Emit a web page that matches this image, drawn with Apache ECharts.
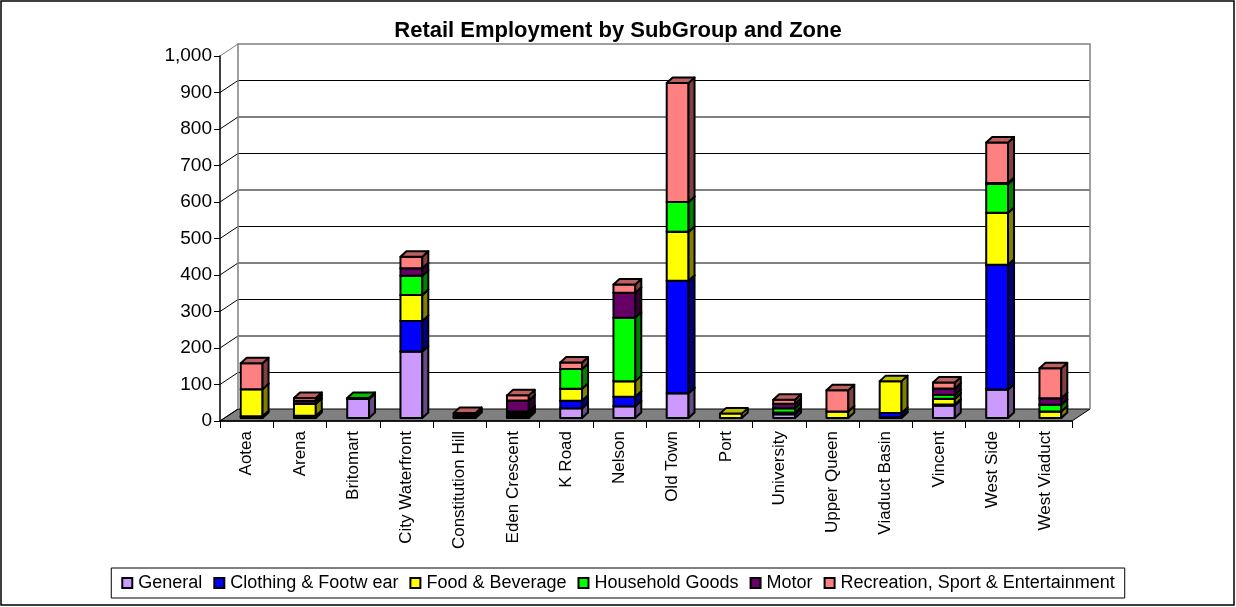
<!DOCTYPE html>
<html>
<head>
<meta charset="utf-8">
<title>Retail Employment by SubGroup and Zone</title>
<script src="https://cdn.jsdelivr.net/npm/echarts@6/dist/echarts.min.js"></script>
<style>
  html, body { margin: 0; padding: 0; background: #fff; }
  #chart { width: 1236px; height: 607px; }
</style>
</head>
<body>
<div id="chart"></div>
<script>
// zones along the x axis
const categories = ['Aotea', 'Arena', 'Britomart', 'City Waterfront', 'Constitution Hill', 'Eden Crescent',
  'K Road', 'Nelson', 'Old Town', 'Port', 'University', 'Upper Queen', 'Viaduct Basin', 'Vincent',
  'West Side', 'West Viaduct']

// employment per subgroup
const general    = [5, 6, 52, 182, 2, 5, 27, 32, 68, 0, 10, 0, 2, 34, 78, 0]
const clothing   = [0, 0, 0, 84, 0, 5, 20, 26, 308, 0, 2, 0, 12, 3, 342, 0]
const food       = [74, 33, 0, 71, 2, 6, 33, 43, 134, 12, 3, 18, 87, 16, 142, 18]
const household  = [0, 0, 3, 53, 0, 2, 54, 174, 82, 0, 12, 0, 0, 10, 79, 18]
const motor      = [0, 8, 0, 20, 6, 30, 0, 68, 0, 0, 12, 0, 0, 18, 3, 18]
const recreation = [71, 8, 0, 32, 4, 14, 18, 23, 326, 0, 11, 58, 0, 16, 111, 82]

const yTicks = [0, 100, 200, 300, 400, 500, 600, 700, 800, 900, 1000]

const groups = [
  { name: 'General', data: general, color: '#CC99FF', side: '#664C80', top: '#9973BF' },
  { name: 'Clothing & Footw ear', data: clothing, color: '#0000FF', side: '#000080', top: '#0000BF' },
  { name: 'Food & Beverage', data: food, color: '#FFFF00', side: '#808000', top: '#BFBF00' },
  { name: 'Household Goods', data: household, color: '#00FF00', side: '#008000', top: '#00BF00' },
  { name: 'Motor', data: motor, color: '#660066', side: '#330033', top: '#4C004C' },
  { name: 'Recreation, Sport & Entertainment', data: recreation, color: '#FF8080', side: '#804040', top: '#BF6060' }
]

// 3d look: back wall offset, bar position in depth, bar depth
const BX = 18, BY = -12
const OX = 5, OY = -3
const DX = 6, DY = -5.5
const FONT = '"Liberation Sans", Arial, sans-serif'

const chart = echarts.init(document.getElementById('chart'))

// frame: back wall gridlines, wall edges, floor and the diagonal tick lines
function frameRender(params, api) {
  const cs = params.coordSys
  const left = cs.x, right = cs.x + cs.width
  const v = api.value(0)
  const y = api.coord([0, v])[1]
  const children = []
  const maxV = yTicks[yTicks.length - 1]
  if (v > 0 && v < maxV) {
    children.push({ type: 'line', shape: { x1: left + BX, y1: y + BY, x2: right + BX, y2: y + BY },
      style: { stroke: '#000', lineWidth: 1 } })
  }
  if (v === maxV) {
    const y0 = api.coord([0, 0])[1]
    children.push({ type: 'polyline', shape: { points: [[left + BX, y0 + BY], [left + BX, y + BY], [right + BX, y + BY], [right + BX, y0 + BY]] },
      style: { stroke: '#808080', lineWidth: 1.5, fill: null } })
  }
  if (v === 0) {
    children.push({ type: 'polygon', shape: { points: [[left, y], [right, y], [right + BX, y + BY], [left + BX, y + BY]] },
      style: { fill: '#808080', stroke: '#000', lineWidth: 1 } })
  }
  children.push({ type: 'line', shape: { x1: left, y1: y, x2: left + BX, y2: y + BY },
    style: { stroke: v === maxV ? '#808080' : '#000', lineWidth: 1 } })
  return { type: 'group', children: children }
}

function barRender(g) {
  return function (params, api) {
    const i = api.value(0)
    const v = api.value(1)
    const base = api.value(2)
    if (!v) return
    const p0 = api.coord([i, base])
    const p1 = api.coord([i, base + v])
    const bw = api.size([1, 0])[0] * 0.41
    const x0 = p0[0] - bw / 2 + OX
    const x1 = x0 + bw
    const yb = p0[1] + OY
    const yt = p1[1] + OY
    const line = { stroke: '#000', lineWidth: 2, lineJoin: 'round' }
    return {
      type: 'group',
      children: [
        { type: 'rect', shape: { x: x0, y: yt, width: bw, height: yb - yt }, style: Object.assign({ fill: g.color }, line) },
        { type: 'polygon', shape: { points: [[x1, yb], [x1, yt], [x1 + DX, yt + DY], [x1 + DX, yb + DY]] }, style: Object.assign({ fill: g.side }, line) },
        { type: 'polygon', shape: { points: [[x0, yt], [x1, yt], [x1 + DX, yt + DY], [x0 + DX, yt + DY]] }, style: Object.assign({ fill: g.top }, line) }
      ]
    }
  }
}

// stacked bases
const running = categories.map(() => 0)
const barSeries = groups.map(g => {
  const rows = g.data.map((v, i) => {
    const row = [i, v, running[i]]
    running[i] += v
    return row
  })
  return {
    name: g.name,
    type: 'custom',
    renderItem: barRender(g),
    itemStyle: { color: g.color, borderColor: '#000', borderWidth: 1 },
    encode: { x: 0, y: 1 },
    data: rows,
    z: 3,
    animation: false
  }
})

chart.setOption({
  backgroundColor: '#fff',
  animation: false,
  title: {
    text: 'Retail Employment by SubGroup and Zone',
    left: 'center',
    top: 15,
    textStyle: { fontFamily: FONT, fontSize: 22, fontWeight: 'bold', color: '#000' }
  },
  legend: {
    data: groups.map(g => g.name),
    bottom: 9,
    left: 'center',
    icon: 'rect',
    itemWidth: 10,
    itemHeight: 10,
    itemGap: 11,
    borderColor: '#000',
    borderWidth: 1,
    borderRadius: 0,
    padding: [6, 10],
    textStyle: { fontFamily: FONT, fontSize: 18, color: '#000', padding: [0, 0, 0, 1] }
  },
  grid: { left: 220, right: 164, top: 56, bottom: 186 },
  xAxis: {
    type: 'category',
    data: categories,
    z: 5,
    axisLine: { lineStyle: { color: '#000', width: 1.5 } },
    axisTick: { show: true, length: 7, lineStyle: { color: '#000' } },
    axisLabel: { interval: 0, rotate: 90, margin: 10, fontFamily: FONT, fontSize: 17, color: '#000' }
  },
  yAxis: {
    type: 'value',
    min: 0,
    max: 1000,
    interval: 100,
    z: 5,
    axisLine: { show: true, lineStyle: { color: '#000', width: 1.5 } },
    axisTick: { show: true, length: 6, lineStyle: { color: '#000' } },
    axisLabel: { margin: 8, fontFamily: FONT, fontSize: 19, color: '#000',
      formatter: v => v.toLocaleString('en-US') },
    splitLine: { show: false }
  },
  graphic: [{
    type: 'rect',
    shape: { x: 1, y: 1, width: 1233, height: 604 },
    style: { fill: null, stroke: '#000', lineWidth: 1.5 },
    silent: true
  }],
  series: [{
    type: 'custom',
    renderItem: frameRender,
    data: yTicks.map(v => [v]),
    encode: { y: 0 },
    z: 1,
    silent: true,
    legendHoverLink: false
  }].concat(barSeries)
})
</script>
</body>
</html>
